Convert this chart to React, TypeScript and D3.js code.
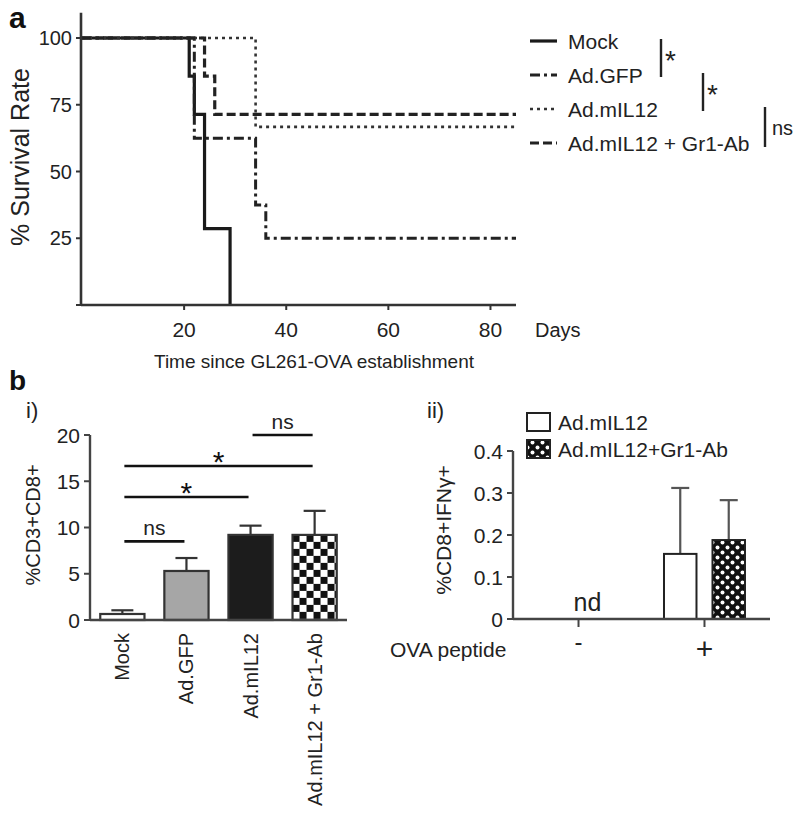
import React from "react";
import * as d3 from "d3";

const FONT = '"Liberation Sans", Arial, Helvetica, sans-serif';

// ---------- Panel a: survival ----------
const survivalGroups = ["Mock", "Ad.GFP", "Ad.mIL12", "Ad.mIL12 + Gr1-Ab"];
const mockSteps: [number, number][] = [[0, 100], [21, 85.7], [22, 71.4], [24, 28.6], [29, 0]];
const gfpSteps: [number, number][] = [[0, 100], [22, 62.5], [34, 37.5], [36, 25], [85, 25]];
const il12Steps: [number, number][] = [[0, 100], [34, 66.7], [85, 66.7]];
const gr1Steps: [number, number][] = [[0, 100], [24, 85.7], [26, 71.4], [85, 71.4]];
const survivalSeries = [mockSteps, gfpSteps, il12Steps, gr1Steps];
const survivalXTicks = [20, 40, 60, 80];
const survivalYTicks = [0, 25, 50, 75, 100];
const survivalSig = [
  { from: 0, to: 1, label: "*" },
  { from: 1, to: 2, label: "*" },
  { from: 2, to: 3, label: "ns" },
];

// ---------- Panel b i ----------
const cd8Categories = ["Mock", "Ad.GFP", "Ad.mIL12", "Ad.mIL12 + Gr1-Ab"];
const cd8Means = [0.65, 5.3, 9.2, 9.2];
const cd8Errors = [0.4, 1.4, 1.0, 2.6];
const cd8YTicks = [0, 5, 10, 15, 20];
const cd8Sig = [
  { from: 0, to: 1, y: 8.5, label: "ns" },
  { from: 0, to: 2, y: 13.3, label: "*" },
  { from: 0, to: 3, y: 16.65, label: "*" },
  { from: 2, to: 3, y: 20, label: "ns" },
];

// ---------- Panel b ii ----------
const ifnGroups = ["-", "+"];
const ifnSeries = ["Ad.mIL12", "Ad.mIL12+Gr1-Ab"];
const ifnMeansPlus = [0.155, 0.188];
const ifnErrorsPlus = [0.157, 0.095];
const ifnYTicks = [0, 0.1, 0.2, 0.3, 0.4];

// styles
const lineStyles = [
  { dash: "none", width: 3.2, color: "#1a1a1a" },
  { dash: "10,4,3,4", width: 3, color: "#222" },
  { dash: "3,4", width: 2.6, color: "#333" },
  { dash: "9,4", width: 3.2, color: "#222" },
];
const cd8Fills = ["#ffffff", "#a6a6a6", "#1c1c1c", "url(#checkA)"];
const ifnFills = ["#ffffff", "url(#checkB)"];

export default function App() {
  // Panel a scales
  const xA = d3.scaleLinear().domain([0, 85]).range([82, 516]);
  const yA = d3.scaleLinear().domain([0, 100]).range([305, 38]);
  const yAMax = 109.5;
  const line = d3
    .line<[number, number]>()
    .x((d) => xA(d[0]))
    .y((d) => yA(d[1]))
    .curve(d3.curveStepAfter);
  const legendX = 530;
  const legendY0 = 41;
  const legendDy = 34;
  const sigX = [661, 703, 765];

  // Panel b i scales
  const xB = d3.scaleBand<string>().domain(cd8Categories).range([90, 347]).paddingInner(0.31).paddingOuter(0.16);
  const yB = d3.scaleLinear().domain([0, 20]).range([620, 435]);
  const cB = (i: number) => (xB(cd8Categories[i]) as number) + xB.bandwidth() / 2;

  // Panel b ii scales
  const xC = d3.scaleBand<string>().domain(ifnGroups).range([513, 770]).paddingInner(0.2).paddingOuter(0.12);
  const xCi = d3.scaleBand<string>().domain(ifnSeries).range([0, xC.bandwidth()]).paddingInner(0.33).paddingOuter(0.204);
  const yC = d3.scaleLinear().domain([0, 0.4]).range([619, 451]);

  return (
    <svg width={800} height={830} style={{ position: "absolute", left: 0, top: 0, background: "#fff" }} fontFamily={FONT}>
      <defs>
        <pattern id="checkA" width="14" height="14" patternUnits="userSpaceOnUse" x={xB(cd8Categories[3])} y={yB(cd8Means[3])}>
          <rect width="14" height="14" fill="#fff" />
          <rect width="7" height="7" fill="#111" />
          <rect x="7" y="7" width="7" height="7" fill="#111" />
        </pattern>
        <pattern id="checkB" width="10" height="10" patternUnits="userSpaceOnUse" x={0} y={0}>
          <rect width="10" height="10" fill="#111" />
          <circle cx="2.5" cy="2.5" r="2" fill="#fff" />
          <circle cx="7.5" cy="7.5" r="2" fill="#fff" />
        </pattern>
      </defs>
      <rect width={800} height={830} fill="#fff" />

      {/* ================= Panel a ================= */}
      <text x={9} y={28} fontSize={30} fontWeight="bold" fill="#111">a</text>
      {/* curves */}
      {survivalSeries.map((s, i) => (
        <path key={i} d={line(s) as string} fill="none" stroke={lineStyles[i].color}
          strokeWidth={lineStyles[i].width} strokeDasharray={lineStyles[i].dash} />
      ))}
      {/* axes */}
      <line x1={xA(0) - 1} x2={xA(0) - 1} y1={yA(0)} y2={yA(yAMax)} stroke="#333" strokeWidth={2.6} />
      <line x1={xA(0) - 1} x2={xA(85)} y1={yA(0)} y2={yA(0)} stroke="#333" strokeWidth={2.6} />
      {survivalYTicks.map((t) => (
        <g key={t}>
          <line x1={xA(0) - 6} x2={xA(0) - 1} y1={yA(t)} y2={yA(t)} stroke="#333" strokeWidth={2} />
          {t > 0 && (
            <text x={xA(0) - 10} y={yA(t)} fontSize={20} textAnchor="end" dominantBaseline="central" fill="#222">{t}</text>
          )}
        </g>
      ))}
      {survivalXTicks.map((t) => (
        <g key={t}>
          <line x1={xA(t)} x2={xA(t)} y1={yA(0)} y2={yA(0) + 5} stroke="#333" strokeWidth={2} />
          <text x={xA(t)} y={337} fontSize={21} textAnchor="middle" fill="#222">{t}</text>
        </g>
      ))}
      <text x={535} y={337} fontSize={20} fill="#222">Days</text>
      <text x={314} y={368} fontSize={19} textAnchor="middle" fill="#222">Time since GL261-OVA establishment</text>
      <text transform={`translate(20,157) rotate(-90)`} fontSize={25} textAnchor="middle" dominantBaseline="central" fill="#222">% Survival Rate</text>
      {/* legend */}
      {survivalGroups.map((g, i) => (
        <g key={g}>
          <line x1={legendX} x2={legendX + 27} y1={legendY0 + i * legendDy} y2={legendY0 + i * legendDy}
            stroke={lineStyles[i].color} strokeWidth={lineStyles[i].width} strokeDasharray={lineStyles[i].dash} />
          <text x={legendX + 38} y={legendY0 + i * legendDy} fontSize={21} dominantBaseline="central" fill="#222">{g}</text>
        </g>
      ))}
      {survivalSig.map((s, i) => (
        <g key={i}>
          <line x1={sigX[i]} x2={sigX[i]} y1={legendY0 + s.from * legendDy - 2} y2={legendY0 + s.to * legendDy + 2 + (i === 2 ? 2 : 0)}
            stroke="#222" strokeWidth={2.4} />
          {s.label === "*" ? (
            <text x={sigX[i] + 4} y={(legendY0 + s.from * legendDy) + 29} fontSize={28} fill="#222">*</text>
          ) : (
            <text x={sigX[i] + 7} y={(legendY0 + (s.from + s.to) / 2 * legendDy) + 2} fontSize={20} dominantBaseline="central" fill="#222">{s.label}</text>
          )}
        </g>
      ))}

      {/* ================= Panel b i ================= */}
      <text x={9} y={390} fontSize={28} fontWeight="bold" fill="#111">b</text>
      <text x={26} y={418} fontSize={22} fill="#222">i)</text>
      {cd8Categories.map((c, i) => {
        const x = xB(c) as number;
        const w = xB.bandwidth();
        const cx = x + w / 2;
        return (
          <g key={c}>
            <line x1={cx} x2={cx} y1={yB(cd8Means[i])} y2={yB(cd8Means[i] + cd8Errors[i])} stroke="#333" strokeWidth={2.2} />
            <line x1={cx - 11} x2={cx + 11} y1={yB(cd8Means[i] + cd8Errors[i])} y2={yB(cd8Means[i] + cd8Errors[i])} stroke="#333" strokeWidth={2.2} />
            <rect x={x} y={yB(cd8Means[i])} width={w} height={yB(0) - yB(cd8Means[i])} fill={cd8Fills[i]} stroke="#333" strokeWidth={2.2} />
            <text transform={`translate(${cx},633) rotate(-90)`} fontSize={20} textAnchor="end" dominantBaseline="central" fill="#222">{c}</text>
          </g>
        );
      })}
      <line x1={90} x2={90} y1={yB(0)} y2={yB(20)} stroke="#444" strokeWidth={2.4} />
      <line x1={90} x2={347} y1={yB(0)} y2={yB(0)} stroke="#444" strokeWidth={2.4} />
      {cd8YTicks.map((t) => (
        <g key={t}>
          <line x1={84} x2={90} y1={yB(t)} y2={yB(t)} stroke="#444" strokeWidth={2} />
          <text x={80} y={yB(t)} fontSize={21} textAnchor="end" dominantBaseline="central" fill="#222">{t}</text>
        </g>
      ))}
      <text transform={`translate(33,525) rotate(-90)`} fontSize={20} textAnchor="middle" dominantBaseline="central" fill="#222">%CD3+CD8+</text>
      {cd8Sig.map((s, i) => {
        const x1 = cB(s.from) + 2;
        const x2 = cB(s.to) - 2;
        const y = yB(s.y);
        return (
          <g key={i}>
            <line x1={x1} x2={x2} y1={y} y2={y} stroke="#111" strokeWidth={2.6} />
            {s.label === "*" ? (
              <text x={(x1 + x2) / 2} y={y + 6} fontSize={30} textAnchor="middle" fill="#111">*</text>
            ) : (
              <text x={(x1 + x2) / 2} y={y - 6} fontSize={21} textAnchor="middle" fill="#222">{s.label}</text>
            )}
          </g>
        );
      })}

      {/* ================= Panel b ii ================= */}
      <text x={427} y={418} fontSize={22} fill="#222">ii)</text>
      {ifnSeries.map((s, i) => (
        <g key={s}>
          <rect x={527} y={413 + i * 27} width={23} height={18} fill={ifnFills[i]} stroke="#222" strokeWidth={2} />
          <text x={558} y={422 + i * 27} fontSize={21} dominantBaseline="central" fill="#222">{s}</text>
        </g>
      ))}
      {ifnSeries.map((s, i) => {
        const x = (xC("+") as number) + (xCi(s) as number);
        const w = xCi.bandwidth();
        const cx = x + w / 2;
        const top = yC(ifnMeansPlus[i] + ifnErrorsPlus[i]);
        return (
          <g key={s}>
            <line x1={cx} x2={cx} y1={yC(ifnMeansPlus[i])} y2={top} stroke="#555" strokeWidth={2.2} />
            <line x1={cx - 9} x2={cx + 9} y1={top} y2={top} stroke="#555" strokeWidth={2.2} />
            <rect x={x} y={yC(ifnMeansPlus[i])} width={w} height={yC(0) - yC(ifnMeansPlus[i])} fill={ifnFills[i]} stroke="#222" strokeWidth={2} />
          </g>
        );
      })}
      <line x1={513} x2={513} y1={yC(0)} y2={yC(0.4)} stroke="#444" strokeWidth={2.4} />
      <line x1={513} x2={770} y1={yC(0)} y2={yC(0)} stroke="#444" strokeWidth={2.4} />
      {ifnYTicks.map((t) => (
        <g key={t}>
          <line x1={507} x2={513} y1={yC(t)} y2={yC(t)} stroke="#444" strokeWidth={2} />
          <text x={503} y={yC(t)} fontSize={21} textAnchor="end" dominantBaseline="central" fill="#222">{t === 0 ? "0" : t.toFixed(1)}</text>
        </g>
      ))}
      {ifnGroups.map((g) => {
        const cx = (xC(g) as number) + xC.bandwidth() / 2;
        return (
          <g key={g}>
            <line x1={cx} x2={cx} y1={yC(0)} y2={yC(0) + 8} stroke="#444" strokeWidth={2} />
            <text x={cx} y={g === "+" ? 659 : 650} fontSize={g === "+" ? 30 : 24} textAnchor="middle" fill="#222">{g}</text>
          </g>
        );
      })}
      <text x={(xC("-") as number) + xC.bandwidth() / 2 + 9} y={602} fontSize={25} textAnchor="middle" dominantBaseline="central" fill="#222">nd</text>
      <text x={390} y={649} fontSize={21} dominantBaseline="central" fill="#222">OVA peptide</text>
      <text transform={`translate(443,530) rotate(-90)`} fontSize={21} textAnchor="middle" dominantBaseline="central" fill="#222">%CD8+IFNγ+</text>
    </svg>
  );
}
